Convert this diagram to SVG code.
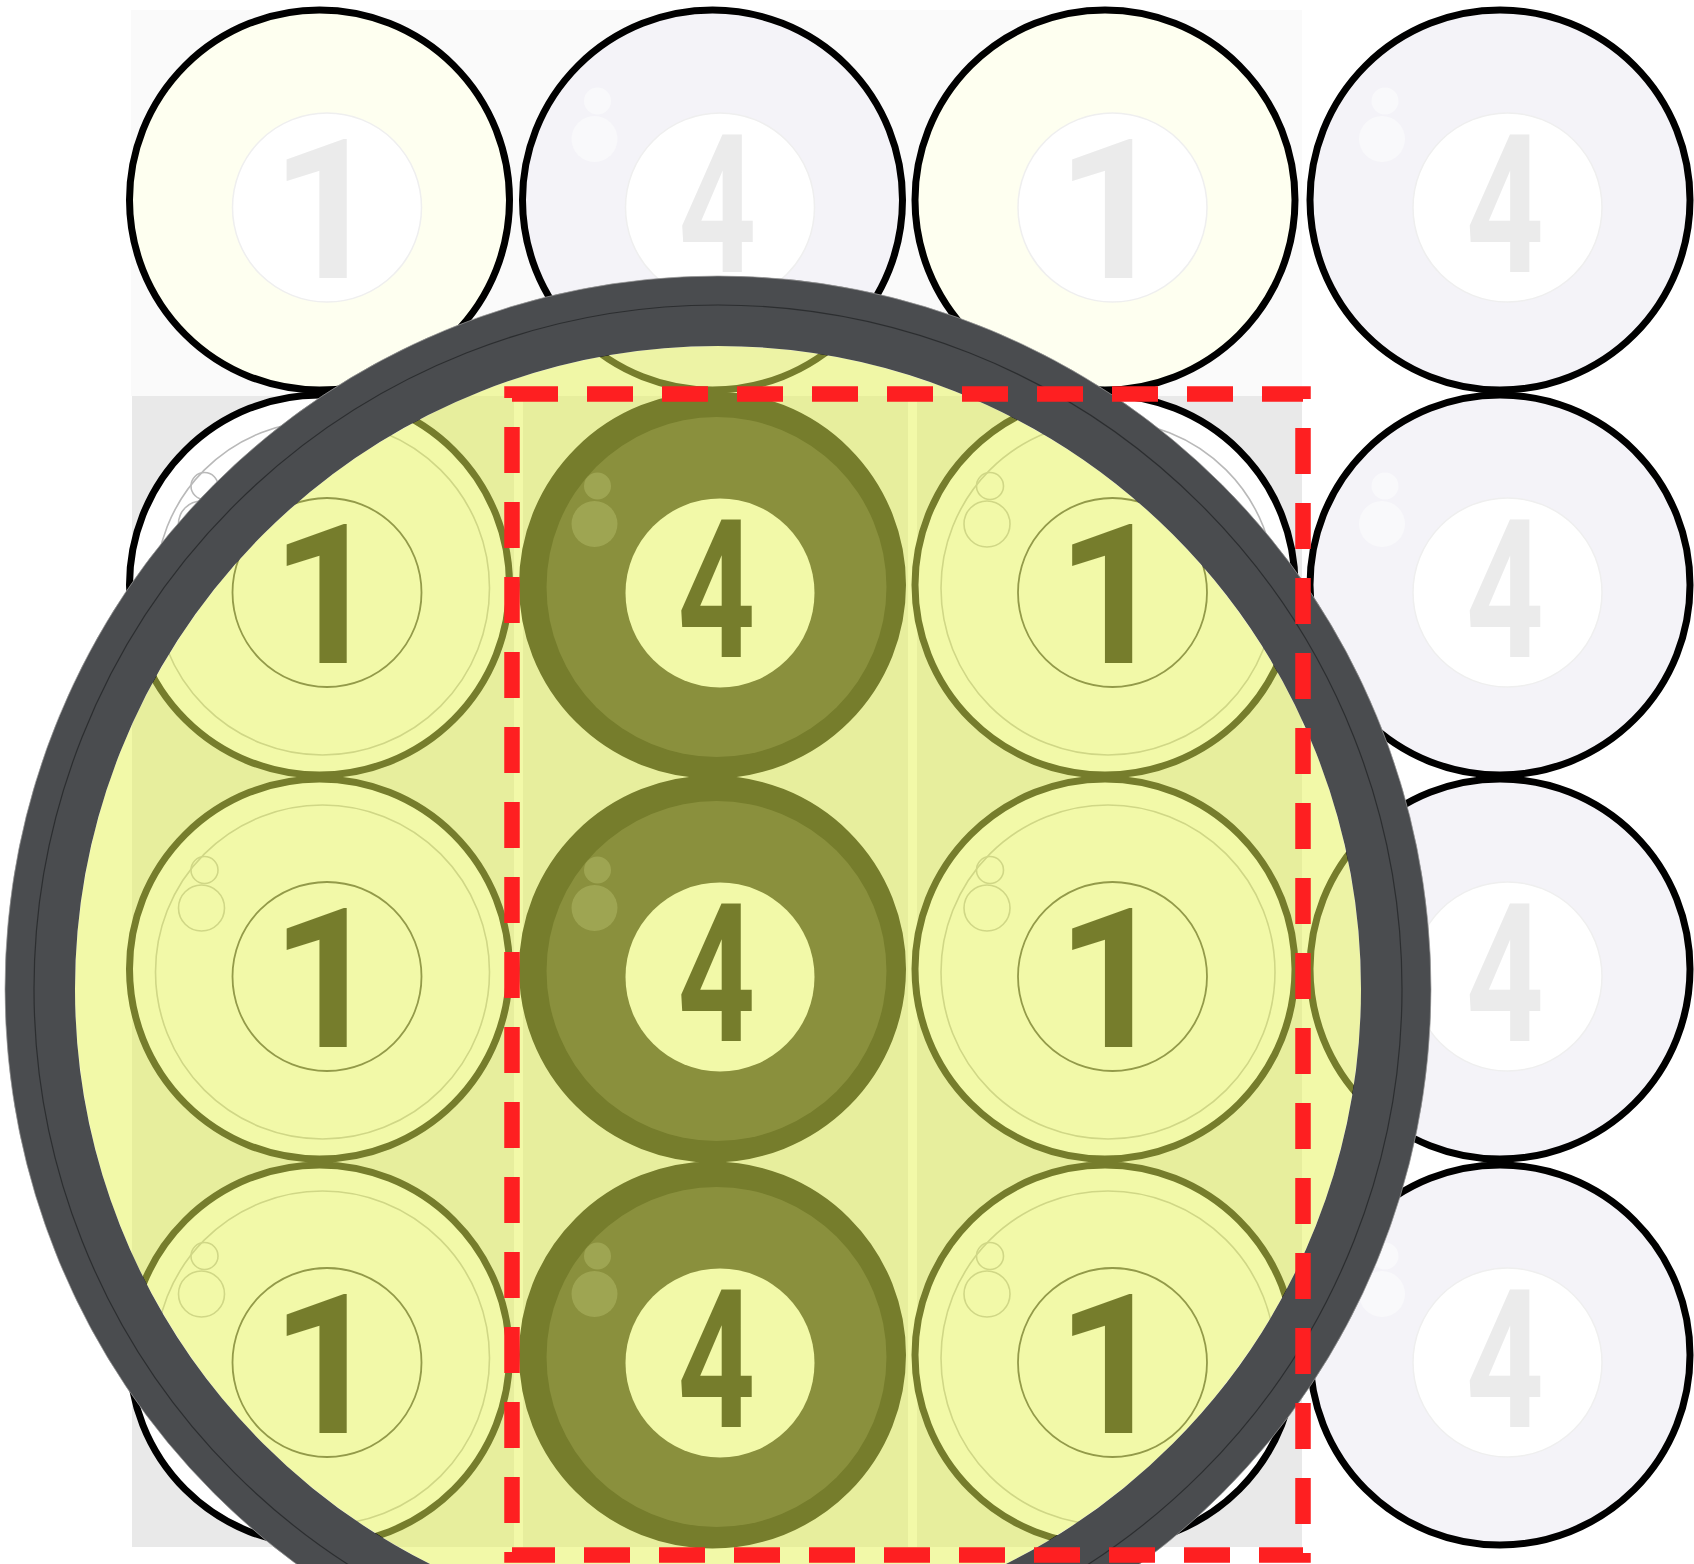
<svg xmlns="http://www.w3.org/2000/svg" width="1694" height="1564" viewBox="0 0 1694 1564">
<style>
.f1{fill:#fefff0;stroke:#000;stroke-width:7}
.f4{fill:#f4f3f8;stroke:#000;stroke-width:7}
.fin{fill:#fff;stroke:#efefef;stroke-width:1.5}
.fhl{fill:#f9f9fb}
.v1{fill:#fff;stroke:#000;stroke-width:7}
.vring{fill:none;stroke:#b9b9b9;stroke-width:1.6}
.vin{fill:none;stroke:#3c3c3c;stroke-width:1.8}
.v4{fill:#000;stroke:#000;stroke-width:7}
.v4fill{fill:#292723}
.v4hl{fill:#fff;fill-opacity:0.2}
.v4in{fill:#fff}
.col{fill:#e9e9e9}
</style>
<rect width="1694" height="1564" fill="#fff"/>
<rect x="131" y="10" width="1171" height="386" fill="#fafafa"/>
<g id="columns">
<rect class="col" x="132" y="396" width="382" height="1151"/>
<rect class="col" x="523" y="396" width="385" height="1151"/>
<rect class="col" x="917" y="396" width="385" height="1151"/>
</g>

<g id="ball-r1c1" transform="translate(319.5,200)">
<circle r="190" class="f1"/>
<circle cx="7.5" cy="7.5" r="94.5" class="fin"/>
<text x="7" y="78" font-family="Roboto" font-weight="700" font-size="194" text-anchor="middle" fill="#ebebeb">1</text>
</g>
<g id="ball-r1c2" transform="translate(712.5,200)">
<circle r="190" class="f4"/>
<circle cx="-115" cy="-99" r="13.5" class="fhl"/>
<circle cx="-118" cy="-61" r="23" class="fhl"/>
<circle cx="7.5" cy="7.5" r="94.5" class="fin"/>
<text transform="translate(5,72) scale(0.7,1)" font-family="Roboto" font-weight="700" font-size="194" text-anchor="middle" fill="#ebebeb">4</text>
</g>
<g id="ball-r1c3" transform="translate(1105,200)">
<circle r="190" class="f1"/>
<circle cx="7.5" cy="7.5" r="94.5" class="fin"/>
<text x="7" y="78" font-family="Roboto" font-weight="700" font-size="194" text-anchor="middle" fill="#ebebeb">1</text>
</g>
<g id="ball-r1c4" transform="translate(1500,200)">
<circle r="190" class="f4"/>
<circle cx="-115" cy="-99" r="13.5" class="fhl"/>
<circle cx="-118" cy="-61" r="23" class="fhl"/>
<circle cx="7.5" cy="7.5" r="94.5" class="fin"/>
<text transform="translate(5,72) scale(0.7,1)" font-family="Roboto" font-weight="700" font-size="194" text-anchor="middle" fill="#ebebeb">4</text>
</g>
<g id="ball-r2c4" transform="translate(1500,585)">
<circle r="190" class="f4"/>
<circle cx="-115" cy="-99" r="13.5" class="fhl"/>
<circle cx="-118" cy="-61" r="23" class="fhl"/>
<circle cx="7.5" cy="7.5" r="94.5" class="fin"/>
<text transform="translate(5,72) scale(0.7,1)" font-family="Roboto" font-weight="700" font-size="194" text-anchor="middle" fill="#ebebeb">4</text>
</g>
<g id="ball-r3c4" transform="translate(1500,969)">
<circle r="190" class="f4"/>
<circle cx="-115" cy="-99" r="13.5" class="fhl"/>
<circle cx="-118" cy="-61" r="23" class="fhl"/>
<circle cx="7.5" cy="7.5" r="94.5" class="fin"/>
<text transform="translate(5,72) scale(0.7,1)" font-family="Roboto" font-weight="700" font-size="194" text-anchor="middle" fill="#ebebeb">4</text>
</g>
<g id="ball-r4c4" transform="translate(1500,1355)">
<circle r="190" class="f4"/>
<circle cx="-115" cy="-99" r="13.5" class="fhl"/>
<circle cx="-118" cy="-61" r="23" class="fhl"/>
<circle cx="7.5" cy="7.5" r="94.5" class="fin"/>
<text transform="translate(5,72) scale(0.7,1)" font-family="Roboto" font-weight="700" font-size="194" text-anchor="middle" fill="#ebebeb">4</text>
</g>

<g id="ball-r2c1" transform="translate(319.5,585)">
<circle r="190" class="v1"/>
<circle cx="3" cy="3" r="167" class="vring"/>
<circle cx="-115" cy="-99" r="13.5" class="vring"/>
<circle cx="-118" cy="-61" r="23" class="vring"/>
<circle cx="7.5" cy="7.5" r="94.5" class="vin"/>
<text x="7" y="78" font-family="Roboto" font-weight="700" font-size="194" text-anchor="middle" fill="#000">1</text>
</g>
<g id="ball-r2c2" transform="translate(712.5,585)">
<circle r="190" class="v4"/>
<circle cx="4" cy="2" r="170" class="v4fill"/>
<circle cx="-115" cy="-99" r="13.5" class="v4hl"/>
<circle cx="-118" cy="-61" r="23" class="v4hl"/>
<circle cx="7.5" cy="8" r="94.5" class="v4in"/>
<text transform="translate(4,72) scale(0.7,1)" font-family="Roboto" font-weight="700" font-size="194" text-anchor="middle" fill="#000">4</text>
</g>
<g id="ball-r2c3" transform="translate(1105,585)">
<circle r="190" class="v1"/>
<circle cx="3" cy="3" r="167" class="vring"/>
<circle cx="-115" cy="-99" r="13.5" class="vring"/>
<circle cx="-118" cy="-61" r="23" class="vring"/>
<circle cx="7.5" cy="7.5" r="94.5" class="vin"/>
<text x="7" y="78" font-family="Roboto" font-weight="700" font-size="194" text-anchor="middle" fill="#000">1</text>
</g>
<g id="ball-r3c1" transform="translate(319.5,969)">
<circle r="190" class="v1"/>
<circle cx="3" cy="3" r="167" class="vring"/>
<circle cx="-115" cy="-99" r="13.5" class="vring"/>
<circle cx="-118" cy="-61" r="23" class="vring"/>
<circle cx="7.5" cy="7.5" r="94.5" class="vin"/>
<text x="7" y="78" font-family="Roboto" font-weight="700" font-size="194" text-anchor="middle" fill="#000">1</text>
</g>
<g id="ball-r3c2" transform="translate(712.5,969)">
<circle r="190" class="v4"/>
<circle cx="4" cy="2" r="170" class="v4fill"/>
<circle cx="-115" cy="-99" r="13.5" class="v4hl"/>
<circle cx="-118" cy="-61" r="23" class="v4hl"/>
<circle cx="7.5" cy="8" r="94.5" class="v4in"/>
<text transform="translate(4,72) scale(0.7,1)" font-family="Roboto" font-weight="700" font-size="194" text-anchor="middle" fill="#000">4</text>
</g>
<g id="ball-r3c3" transform="translate(1105,969)">
<circle r="190" class="v1"/>
<circle cx="3" cy="3" r="167" class="vring"/>
<circle cx="-115" cy="-99" r="13.5" class="vring"/>
<circle cx="-118" cy="-61" r="23" class="vring"/>
<circle cx="7.5" cy="7.5" r="94.5" class="vin"/>
<text x="7" y="78" font-family="Roboto" font-weight="700" font-size="194" text-anchor="middle" fill="#000">1</text>
</g>
<g id="ball-r4c1" transform="translate(319.5,1355)">
<circle r="190" class="v1"/>
<circle cx="3" cy="3" r="167" class="vring"/>
<circle cx="-115" cy="-99" r="13.5" class="vring"/>
<circle cx="-118" cy="-61" r="23" class="vring"/>
<circle cx="7.5" cy="7.5" r="94.5" class="vin"/>
<text x="7" y="78" font-family="Roboto" font-weight="700" font-size="194" text-anchor="middle" fill="#000">1</text>
</g>
<g id="ball-r4c2" transform="translate(712.5,1355)">
<circle r="190" class="v4"/>
<circle cx="4" cy="2" r="170" class="v4fill"/>
<circle cx="-115" cy="-99" r="13.5" class="v4hl"/>
<circle cx="-118" cy="-61" r="23" class="v4hl"/>
<circle cx="7.5" cy="8" r="94.5" class="v4in"/>
<text transform="translate(4,72) scale(0.7,1)" font-family="Roboto" font-weight="700" font-size="194" text-anchor="middle" fill="#000">4</text>
</g>
<g id="ball-r4c3" transform="translate(1105,1355)">
<circle r="190" class="v1"/>
<circle cx="3" cy="3" r="167" class="vring"/>
<circle cx="-115" cy="-99" r="13.5" class="vring"/>
<circle cx="-118" cy="-61" r="23" class="vring"/>
<circle cx="7.5" cy="7.5" r="94.5" class="vin"/>
<text x="7" y="78" font-family="Roboto" font-weight="700" font-size="194" text-anchor="middle" fill="#000">1</text>
</g>

<g id="magnifier">
<circle cx="718" cy="989" r="643" fill="#e6f355" fill-opacity="0.514"/>
<circle cx="718" cy="989" r="678" fill="none" stroke="#4a4c4f" stroke-width="70"/>
<circle cx="718" cy="989" r="684" fill="none" stroke="#2c2e30" stroke-width="1.2"/>
<circle cx="718" cy="989" r="713" fill="none" stroke="#9a9a9a" stroke-width="1" stroke-opacity="0.7"/>
</g>

<g id="selection">
<path d="M512,394 H1303 V1555 H512 Z" fill="none" stroke="#fe1f21" stroke-width="15.5" stroke-dasharray="46 29" stroke-linejoin="miter"/>
</g>
</svg>
